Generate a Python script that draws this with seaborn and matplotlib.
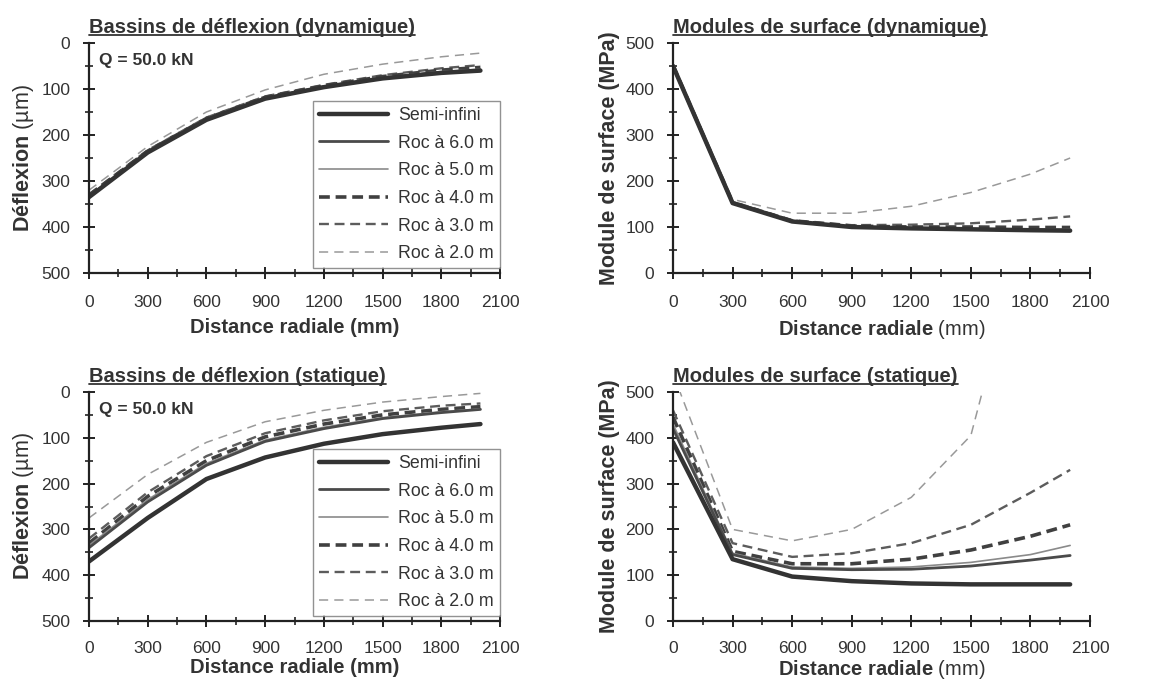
import matplotlib
matplotlib.use("Agg")
import matplotlib.pyplot as plt
from matplotlib.lines import Line2D
from matplotlib.ticker import MultipleLocator
import pandas as pd
import seaborn as sns

# ---------------- data ----------------
distance_mm = [0, 300, 600, 900, 1200, 1500, 1800, 2000]
series_labels = ["Semi-infini", "Roc à 6.0 m", "Roc à 5.0 m",
                 "Roc à 4.0 m", "Roc à 3.0 m", "Roc à 2.0 m"]

# Deflection basins, dynamic (µm)
defl_dyn_semi = [335, 238, 167, 121, 96, 77, 65, 60]
defl_dyn_roc6 = [334, 237, 166, 120, 95, 76, 64, 59]
defl_dyn_roc5 = [333, 236, 165, 119, 94, 75, 62, 57]
defl_dyn_roc4 = [331, 235, 164, 118, 93, 73, 59, 53]
defl_dyn_roc3 = [329, 233, 162, 116, 91, 70, 55, 48]
defl_dyn_roc2 = [320, 225, 150, 102, 68, 46, 30, 22]

# Surface modulus, dynamic (MPa)
mod_dyn_semi = [450, 152, 112, 100, 97, 95, 93, 92]
mod_dyn_roc6 = [450, 152, 112, 100, 97, 95, 94, 93]
mod_dyn_roc5 = [450, 152, 112, 101, 98, 96, 95, 95]
mod_dyn_roc4 = [451, 153, 113, 102, 100, 100, 99, 99]
mod_dyn_roc3 = [452, 155, 115, 104, 105, 108, 116, 123]
mod_dyn_roc2 = [455, 160, 130, 130, 145, 175, 215, 250]

# Deflection basins, static (µm)
defl_sta_semi = [370, 275, 190, 143, 113, 92, 78, 70]
defl_sta_roc6 = [340, 240, 160, 108, 80, 58, 45, 38]
defl_sta_roc5 = [335, 235, 156, 105, 77, 56, 43, 37]
defl_sta_roc4 = [330, 228, 150, 98, 70, 50, 38, 32]
defl_sta_roc3 = [320, 219, 140, 90, 62, 42, 30, 25]
defl_sta_roc2 = [275, 180, 110, 65, 40, 22, 10, 3]

# Surface modulus, static (MPa)
mod_sta_semi = [390, 135, 97, 87, 82, 80, 80, 80]
mod_sta_roc6 = [420, 145, 115, 112, 113, 120, 133, 143]
mod_sta_roc5 = [430, 148, 118, 115, 118, 128, 145, 165]
mod_sta_roc4 = [445, 152, 125, 125, 135, 155, 185, 210]
mod_sta_roc3 = [460, 170, 140, 148, 170, 210, 280, 330]
mod_sta_roc2 = [540, 200, 175, 200, 270, 405, 900, 1400]

panel_titles = ["Bassins de déflexion (dynamique)", "Modules de surface (dynamique)",
                "Bassins de déflexion (statique)", "Modules de surface (statique)"]
load_label = "Q = 50.0 kN"

# ---------------- styles ----------------
styles = [
    dict(color="#333333", lw=3.2, dashes=None),
    dict(color="#4a4a4a", lw=2.0, dashes=None),
    dict(color="#8a8a8a", lw=1.2, dashes=None),
    dict(color="#404040", lw=2.6, dashes=(3.0, 1.6)),
    dict(color="#5c5c5c", lw=1.7, dashes=(4.2, 2.4)),
    dict(color="#999999", lw=1.1, dashes=(6.0, 4.0)),
]

sns.set_theme(style="ticks")
plt.rcParams["font.family"] = ["Liberation Sans", "DejaVu Sans"]
plt.rcParams["mathtext.fontset"] = "custom"
plt.rcParams["mathtext.rm"] = "Liberation Sans"
plt.rcParams["mathtext.bf"] = "Liberation Sans:bold"
plt.rcParams["mathtext.it"] = "Liberation Sans:italic"

fig = plt.figure(figsize=(11.71, 6.86), dpi=100)
fig.patch.set_facecolor("white")

W, H = 1171, 686
def rect(l, r, t, b):
    return [l / W, 1 - b / H, (r - l) / W, (b - t) / H]

axes = [
    fig.add_axes(rect(89, 500, 43, 273)),
    fig.add_axes(rect(673, 1090, 43, 273)),
    fig.add_axes(rect(89, 500, 392, 621)),
    fig.add_axes(rect(673, 1090, 392, 621)),
]

panel_data = [
    [defl_dyn_semi, defl_dyn_roc6, defl_dyn_roc5, defl_dyn_roc4, defl_dyn_roc3, defl_dyn_roc2],
    [mod_dyn_semi, mod_dyn_roc6, mod_dyn_roc5, mod_dyn_roc4, mod_dyn_roc3, mod_dyn_roc2],
    [defl_sta_semi, defl_sta_roc6, defl_sta_roc5, defl_sta_roc4, defl_sta_roc3, defl_sta_roc2],
    [mod_sta_semi, mod_sta_roc6, mod_sta_roc5, mod_sta_roc4, mod_sta_roc3, mod_sta_roc2],
]

titles = []
for i, ax in enumerate(axes):
    is_defl = i in (0, 2)
    is_bottom = i >= 2
    for k in reversed(range(len(series_labels))):
        df = pd.DataFrame({"x": distance_mm, "y": panel_data[i][k]})
        st = styles[k]
        sns.lineplot(data=df, x="x", y="y", ax=ax, color=st["color"], lw=st["lw"],
                     label=series_labels[k], legend=False, sort=False)
        line = ax.get_lines()[-1]
        if st["dashes"] is not None:
            line.set_dashes(st["dashes"])
    ax.set_xlim(0, 2100)
    ax.set_ylim(0, 500)
    if is_defl:
        ax.invert_yaxis()
    ax.xaxis.set_major_locator(MultipleLocator(300))
    ax.xaxis.set_minor_locator(MultipleLocator(150))
    ax.yaxis.set_major_locator(MultipleLocator(100))
    ax.yaxis.set_minor_locator(MultipleLocator(50))
    for sp in ["top", "right"]:
        ax.spines[sp].set_visible(False)
    for sp in ["left", "bottom"]:
        ax.spines[sp].set_linewidth(1.6)
        ax.spines[sp].set_color("#222222")
    ax.tick_params(which="major", direction="inout", length=9, width=1.4,
                   colors="#222222", labelsize=12.5, labelcolor="#333333")
    ax.tick_params(axis="x", which="major", pad=10 if is_bottom else 11)
    ax.tick_params(axis="y", which="major", pad=9)
    ax.tick_params(which="minor", direction="inout", length=6, width=1.2, colors="#222222")
    ax.set_facecolor("white")

    lp = 1 if is_bottom else 6
    if i in (0, 2):
        ax.set_xlabel("Distance radiale (mm)", fontsize=14.5, fontweight="bold",
                      color="#333333", labelpad=lp)
        ax.set_ylabel(r"$\mathbf{Déflexion}$ (µm)", fontsize=15.5, color="#333333", labelpad=4)
        ax.text(0.025, 0.955, load_label, transform=ax.transAxes, fontsize=12.5,
                fontweight="bold", color="#333333", va="top", ha="left")
        handles = [Line2D([], [], color=s["color"], lw=s["lw"],
                          **({} if s["dashes"] is None else {"dashes": s["dashes"]}))
                   for s in styles]
        leg = ax.legend(handles, series_labels, loc="lower right",
                        bbox_to_anchor=(1.0, 0.02), fontsize=12.8, frameon=True,
                        fancybox=False, edgecolor="#777777", handlelength=3.9,
                        handletextpad=0.55, borderpad=0.35, labelspacing=0.6,
                        borderaxespad=0.0)
        leg.get_frame().set_linewidth(1.0)
        for t in leg.get_texts():
            t.set_color("#333333")
    else:
        ax.set_xlabel(r"$\mathbf{Distance\ radiale}$ (mm)", fontsize=14.5,
                      color="#333333", labelpad=lp)
        ax.set_ylabel("Module de surface (MPa)", fontsize=15.5, fontweight="bold",
                      color="#333333", labelpad=4)

    t = ax.set_title(panel_titles[i], loc="left", fontsize=14.5, fontweight="bold",
                     color="#333333", pad=7)
    titles.append(t)

# underline titles
fig.canvas.draw()
renderer = fig.canvas.get_renderer()
for ax, t in zip(axes, titles):
    bb = t.get_window_extent(renderer=renderer)
    inv = ax.transAxes.inverted()
    y = bb.y0 + 0.12 * bb.height
    (x0, yy), (x1, _) = inv.transform([(bb.x0, y), (bb.x1, y)])
    ax.add_line(Line2D([x0, x1], [yy, yy], transform=ax.transAxes,
                       color="#333333", lw=1.3, clip_on=False))

fig.savefig("out.png", dpi=100, facecolor="white")
